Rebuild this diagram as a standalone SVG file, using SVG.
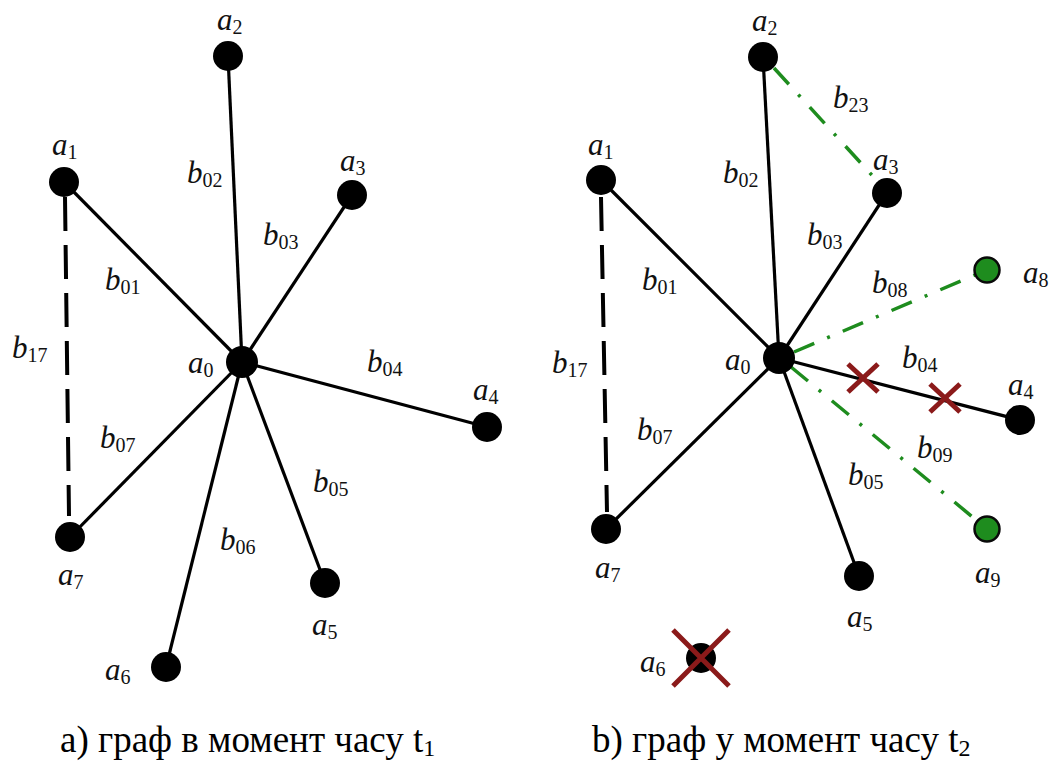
<svg xmlns="http://www.w3.org/2000/svg" width="1057" height="762" viewBox="0 0 1057 762">
<style>
.e{stroke:#000;stroke-width:3.2;fill:none}
.d{stroke:#000;stroke-width:4;fill:none;stroke-dasharray:34 14}
.g{stroke:#1e8c1e;stroke-width:3.5;fill:none;stroke-dasharray:22 14 3 14}
.x{stroke:#8b1a1a;stroke-width:5;fill:none}
.n{fill:#000}
.gn{fill:#1e8c1e;stroke:#0a0a0a;stroke-width:2.5}
.l,.c{font-family:"Liberation Serif","DejaVu Serif",serif}
.l{font-size:31px;font-style:italic;fill:#111}
.s{font-size:20px;font-style:normal}
.c{font-size:37px;fill:#000}
.cs{font-size:24px}
</style>
<g id="connectors">
<line class="e" x1="242" y1="362" x2="64" y2="182"/>
<line class="e" x1="242" y1="362" x2="228" y2="56"/>
<line class="e" x1="242" y1="362" x2="352" y2="195"/>
<line class="e" x1="242" y1="362" x2="487" y2="427"/>
<line class="e" x1="242" y1="362" x2="325" y2="583"/>
<line class="e" x1="242" y1="362" x2="166" y2="667"/>
<line class="e" x1="242" y1="362" x2="70" y2="537"/>
<line class="d" x1="65" y1="197" x2="69" y2="516"/>
<line class="e" x1="779" y1="358" x2="601" y2="180"/>
<line class="e" x1="779" y1="358" x2="763" y2="57"/>
<line class="e" x1="779" y1="358" x2="887" y2="193"/>
<line class="e" x1="779" y1="358" x2="1020" y2="420"/>
<line class="e" x1="779" y1="358" x2="859" y2="576"/>
<line class="e" x1="779" y1="358" x2="606" y2="529"/>
<line class="d" x1="601" y1="197" x2="607" y2="512"/>
<line class="g" x1="774" y1="68" x2="880" y2="184"/>
<line class="g" x1="794" y1="352" x2="975" y2="275"/>
<line class="g" x1="791" y1="367" x2="975" y2="519"/>
</g>
<g id="left-graph">
<g id="L-a0"><circle class="n" cx="242" cy="362" r="16"/><text class="l" x="188" y="373">a<tspan class="s" dy="4">0</tspan></text></g>
<g id="L-a1"><circle class="n" cx="64" cy="182" r="15"/><text class="l" x="52" y="155">a<tspan class="s" dy="4">1</tspan></text></g>
<g id="L-a2"><circle class="n" cx="228" cy="56" r="15"/><text class="l" x="217" y="30">a<tspan class="s" dy="4">2</tspan></text></g>
<g id="L-a3"><circle class="n" cx="352" cy="195" r="15"/><text class="l" x="340" y="171">a<tspan class="s" dy="4">3</tspan></text></g>
<g id="L-a4"><circle class="n" cx="487" cy="427" r="15"/><text class="l" x="473" y="400">a<tspan class="s" dy="4">4</tspan></text></g>
<g id="L-a5"><circle class="n" cx="325" cy="583" r="15"/><text class="l" x="312" y="635">a<tspan class="s" dy="4">5</tspan></text></g>
<g id="L-a6"><circle class="n" cx="166" cy="667" r="15"/><text class="l" x="105" y="680">a<tspan class="s" dy="4">6</tspan></text></g>
<g id="L-a7"><circle class="n" cx="70" cy="537" r="15"/><text class="l" x="58" y="585">a<tspan class="s" dy="4">7</tspan></text></g>
<g id="L-labels">
<text class="l" x="105" y="290">b<tspan class="s" dy="4">01</tspan></text>
<text class="l" x="187" y="183">b<tspan class="s" dy="4">02</tspan></text>
<text class="l" x="263" y="245">b<tspan class="s" dy="4">03</tspan></text>
<text class="l" x="367" y="372">b<tspan class="s" dy="4">04</tspan></text>
<text class="l" x="313" y="492">b<tspan class="s" dy="4">05</tspan></text>
<text class="l" x="220" y="550">b<tspan class="s" dy="4">06</tspan></text>
<text class="l" x="100" y="448">b<tspan class="s" dy="4">07</tspan></text>
<text class="l" x="12" y="358">b<tspan class="s" dy="4">17</tspan></text>
</g>
</g>
<g id="right-graph">
<g id="R-a0"><circle class="n" cx="779" cy="358" r="16"/><text class="l" x="725" y="370">a<tspan class="s" dy="4">0</tspan></text></g>
<g id="R-a1"><circle class="n" cx="601" cy="180" r="15"/><text class="l" x="588" y="155">a<tspan class="s" dy="4">1</tspan></text></g>
<g id="R-a2"><circle class="n" cx="763" cy="57" r="15"/><text class="l" x="752" y="31">a<tspan class="s" dy="4">2</tspan></text></g>
<g id="R-a3"><circle class="n" cx="887" cy="193" r="15"/><text class="l" x="873" y="170">a<tspan class="s" dy="4">3</tspan></text></g>
<g id="R-a4"><circle class="n" cx="1020" cy="420" r="15"/><text class="l" x="1008" y="395">a<tspan class="s" dy="4">4</tspan></text></g>
<g id="R-a5"><circle class="n" cx="859" cy="576" r="15"/><text class="l" x="847" y="627">a<tspan class="s" dy="4">5</tspan></text></g>
<g id="R-a6"><circle class="n" cx="701" cy="658" r="15"/><path class="x" d="M673 630L729 686M729 630L673 686"/><text class="l" x="640" y="672">a<tspan class="s" dy="4">6</tspan></text></g>
<g id="R-a7"><circle class="n" cx="606" cy="529" r="15"/><text class="l" x="595" y="578">a<tspan class="s" dy="4">7</tspan></text></g>
<g id="R-a8"><circle class="gn" cx="987" cy="270" r="12.5"/><text class="l" x="1023" y="283">a<tspan class="s" dy="4">8</tspan></text></g>
<g id="R-a9"><circle class="gn" cx="987" cy="529" r="12.5"/><text class="l" x="975" y="583">a<tspan class="s" dy="4">9</tspan></text></g>
<g id="R-cuts"><path class="x" d="M848 364L878 392M878 364L848 392M930 384L960 412M960 384L930 412"/></g>
<g id="R-labels">
<text class="l" x="642" y="290">b<tspan class="s" dy="4">01</tspan></text>
<text class="l" x="723" y="183">b<tspan class="s" dy="4">02</tspan></text>
<text class="l" x="807" y="245">b<tspan class="s" dy="4">03</tspan></text>
<text class="l" x="902" y="368">b<tspan class="s" dy="4">04</tspan></text>
<text class="l" x="848" y="485">b<tspan class="s" dy="4">05</tspan></text>
<text class="l" x="637" y="440">b<tspan class="s" dy="4">07</tspan></text>
<text class="l" x="552" y="373">b<tspan class="s" dy="4">17</tspan></text>
<text class="l" x="833" y="108">b<tspan class="s" dy="4">23</tspan></text>
<text class="l" x="872" y="293">b<tspan class="s" dy="4">08</tspan></text>
<text class="l" x="917" y="458">b<tspan class="s" dy="4">09</tspan></text>
</g>
</g>
<g id="captions">
<text class="c" x="60" y="752">a) граф в момент часу t<tspan class="cs" dy="4">1</tspan></text>
<text class="c" x="592" y="752">b) граф у момент часу t<tspan class="cs" dy="4">2</tspan></text>
</g>
</svg>
